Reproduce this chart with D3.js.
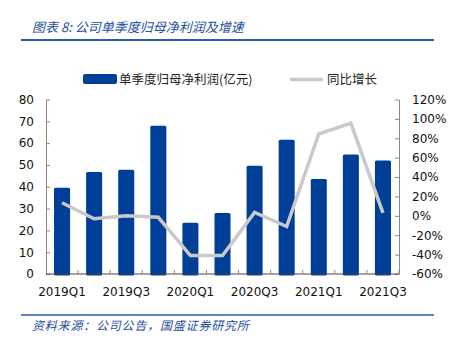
<!DOCTYPE html>
<html><head><meta charset="utf-8">
<script src="https://cdn.jsdelivr.net/npm/d3@7"></script>
<style>body{margin:0;background:#fff}</style>
</head><body>
<svg id="c" width="452" height="339"></svg>
<script>
const categories = ["2019Q1","2019Q2","2019Q3","2019Q4","2020Q1","2020Q2","2020Q3","2020Q4","2021Q1","2021Q2","2021Q3"];
const profit = [39.5, 46.8, 47.8, 68, 23.5, 28, 49.6, 61.5, 43.5, 54.8, 52];
const growth = [13.5, -3, 0, -1.5, -41, -41, 3.5, -11, 84.5, 95.5, 3];
const leftTicks = [0,10,20,30,40,50,60,70,80];
const rightTicks = [-60,-40,-20,0,20,40,60,80,100,120];
const xLabels = ["2019Q1","2019Q3","2020Q1","2020Q3","2021Q1","2021Q3"];

const svg = d3.select("#c");
const blue = "#003f98", grey = "#c9c9c9", titleBlue = "#1d4e9c";
const L = 46, R = 399, T = 99.5, B = 274;
const x = d3.scaleBand().domain(categories).range([L, R]).paddingInner(0.5).paddingOuter(0.25);
const xb = d3.scaleBand().domain(categories).range([L, R]);
const yL = d3.scaleLinear().domain([0, 80]).range([B, T]);
const yR = d3.scaleLinear().domain([-60, 120]).range([B, T]);
const font = "'DejaVu Sans', sans-serif";
const cjk = "'Noto Sans CJK SC', sans-serif";

// title
svg.append("text").attr("x", 32).attr("y", 32).attr("fill", titleBlue)
  .style("font-family", cjk).style("font-style", "italic").style("font-size", "13px")
  .text("图表 8:  公司单季度归母净利润及增速");
svg.append("line").attr("x1", 21).attr("x2", 434).attr("y1", 40).attr("y2", 40)
  .attr("stroke", "#2a5db0").attr("stroke-width", 2);

// legend
svg.append("rect").attr("x", 83).attr("y", 74).attr("width", 34).attr("height", 10).attr("rx", 2).attr("fill", blue);
svg.append("text").attr("x", 119).attr("y", 84).attr("fill", "#222")
  .style("font-family", cjk).style("font-size", "12.5px").text("单季度归母净利润(亿元)");
svg.append("line").attr("x1", 290).attr("x2", 323).attr("y1", 79.5).attr("y2", 79.5)
  .attr("stroke", grey).attr("stroke-width", 3.5);
svg.append("text").attr("x", 327).attr("y", 84).attr("fill", "#222")
  .style("font-family", cjk).style("font-size", "12.5px").text("同比增长");

// bars
svg.append("g").selectAll("rect").data(profit).join("rect")
  .attr("x", (d, i) => x(categories[i]))
  .attr("width", x.bandwidth())
  .attr("y", d => yL(d))
  .attr("height", d => yL(0) - yL(d) + 1.5)
  .attr("rx", 1.5)
  .attr("fill", blue);

// left axis
const gl = svg.append("g").attr("transform", `translate(${L},0)`)
  .call(d3.axisLeft(yL).tickValues(leftTicks).tickSizeInner(-4).tickSizeOuter(0).tickPadding(12));
gl.select(".domain").attr("stroke", "#888");
gl.selectAll(".tick line").attr("stroke", "#888");
gl.selectAll("text").style("font-family", font).style("font-size", "12px").attr("fill", "#111");

// right axis
const gr = svg.append("g").attr("transform", `translate(${R},0)`)
  .call(d3.axisRight(yR).tickValues(rightTicks).tickFormat(d => d + "%").tickSizeInner(-4).tickSizeOuter(0).tickPadding(13));
gr.select(".domain").attr("stroke", "#888");
gr.selectAll(".tick line").attr("stroke", "#888");
gr.selectAll("text").style("font-family", font).style("font-size", "12px").attr("fill", "#111");

// x axis
const bounds = categories.map(c => xb(c)).slice(1).concat([R]);
const gx = svg.append("g").attr("transform", `translate(0,${B})`);
gx.append("line").attr("x1", L).attr("x2", R).attr("stroke", "#444").attr("stroke-width", 1.2);
gx.selectAll("line.t").data(bounds).join("line").attr("class", "t")
  .attr("x1", d => d).attr("x2", d => d).attr("y1", 0).attr("y2", -4).attr("stroke", "#888");
gx.selectAll("text").data(xLabels).join("text")
  .attr("x", d => xb(d) + xb.bandwidth() / 2).attr("y", 22).attr("text-anchor", "middle")
  .style("font-family", font).style("font-size", "12px").attr("fill", "#111").text(d => d);

// line
const line = d3.line().x((d, i) => xb(categories[i]) + xb.bandwidth() / 2).y(d => yR(d));
svg.append("path").datum(growth).attr("d", line).attr("fill", "none")
  .attr("stroke", grey).attr("stroke-width", 3.5).attr("stroke-linejoin", "miter");

// footer
svg.append("line").attr("x1", 21).attr("x2", 434).attr("y1", 315).attr("y2", 315)
  .attr("stroke", "#2a5db0").attr("stroke-width", 1.5);
svg.append("text").attr("x", 32).attr("y", 330).attr("fill", titleBlue)
  .style("font-family", cjk).style("font-style", "italic").style("font-size", "12px")
  .style("letter-spacing", "0.8px")
  .text("资料来源：公司公告，国盛证券研究所");
</script>
</body></html>
